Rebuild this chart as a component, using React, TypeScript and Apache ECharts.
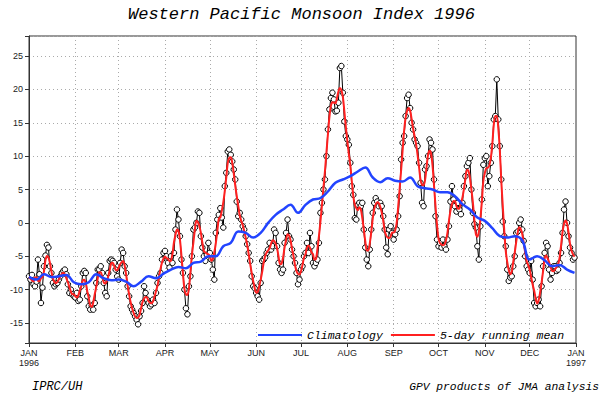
import { useEffect, useRef } from 'react';
import * as echarts from 'echarts';

const MONTHS = ['JAN', 'FEB', 'MAR', 'APR', 'MAY', 'JUN', 'JUL', 'AUG', 'SEP', 'OCT', 'NOV', 'DEC'];
const MONTH_START = [0, 31, 60, 91, 121, 152, 182, 213, 244, 274, 305, 335, 366];
const Y_TICKS = [-15, -10, -5, 0, 5, 10, 15, 20, 25];

// Daily Western Pacific Monsoon Index, 1996
const JAN = [-8.0, -8.5, -7.8, -9.2, -9.5, -8.8, -5.5, -7.7, -12.0, -9.7, -6.5, -4.9, -3.3, -3.7, -6.5, -7.5, -9.0, -9.5, -9.2, -9.0, -8.5, -8.0, -7.5, -7.2, -7.0, -7.7, -9.2, -10.5, -10.0, -10.7, -11.0];
const FEB = [-11.2, -10.5, -11.7, -11.5, -9.5, -7.5, -7.2, -7.5, -11.0, -12.5, -13.0, -12.4, -13.0, -12.0, -9.0, -7.0, -7.0, -6.5, -7.5, -9.0, -10.5, -11.0, -7.5, -5.7, -5.5, -5.7, -6.0, -7.0, -8.0];
const MAR = [-8.5, -6.0, -4.0, -4.5, -6.5, -7.5, -9.5, -11.0, -12.5, -13.0, -13.5, -14.0, -14.5, -15.2, -14.0, -13.2, -12.0, -9.5, -10.5, -11.5, -12.0, -12.5, -12.2, -11.5, -12.0, -10.5, -9.0, -8.0, -7.5, -5.5, -4.5];
const APR = [-4.2, -5.0, -6.0, -6.7, -5.0, -6.0, -4.5, -1.0, 2.0, 0.5, -2.0, -5.5, -7.5, -10.0, -12.8, -13.7, -9.5, -8.0, -5.0, -1.0, -0.7, 0.0, 1.7, 1.5, -2.0, -3.7, -5.0, -5.7, -4.8, -3.0];
const MAY = [-4.5, -5.5, -7.0, -8.5, -1.5, 0.5, 1.2, 2.2, 0.8, -0.7, 5.5, 7.5, 10.7, 11.0, 10.2, 9.2, 8.0, 6.5, 3.2, 1.0, 1.5, 0.5, -0.5, -1.0, -2.0, -3.2, -4.5, -5.7, -8.0, -9.5, -9.8];
const JUN = [-10.5, -11.0, -11.5, -9.0, -5.7, -5.5, -5.2, -4.5, -4.0, -3.0, -4.0, -3.5, -1.0, -1.5, -3.5, -6.0, -7.0, -7.5, -7.0, -3.0, -1.5, 0.5, -2.0, -2.5, -4.0, -5.0, -6.0, -7.5, -9.2, -8.5];
const JUL = [-7.0, -6.5, -5.0, -4.5, -3.0, -4.5, -1.5, -3.5, -6.0, -6.5, -6.0, -5.5, -3.0, 1.5, 3.0, 5.0, 6.5, 10.0, 14.0, 17.0, 18.7, 19.5, 18.5, 16.7, 16.8, 18.0, 23.2, 23.5, 19.5, 15.2, 13.0];
const AUG = [12.5, 11.7, 9.0, 5.5, 4.2, 0.7, 0.5, 2.7, 3.0, 2.5, 3.0, -1.0, -3.7, -5.5, -6.5, -4.0, -1.0, 1.5, 3.0, 3.7, 3.2, 2.5, 3.0, 2.5, 1.0, -1.0, -3.7, -4.7, -1.0, -0.5, -1.5];
const SEP = [-2.5, -1.7, -1.0, 1.0, 4.0, 9.5, 12.0, 13.0, 16.0, 18.7, 19.2, 17.2, 15.0, 14.0, 12.5, 12.0, 11.5, 9.0, 6.0, 3.0, 2.5, 8.0, 8.5, 10.0, 12.5, 12.0, 11.0, 6.5, 1.0, -2.5];
const OCT = [-3.5, -3.0, -3.7, -2.5, -3.5, -4.0, -2.5, -0.5, 3.2, 5.5, 3.5, 2.5, 1.7, 3.0, 2.0, 1.3, 3.0, 5.5, 7.0, 8.5, 9.0, 9.7, 5.0, 1.5, -0.2, -0.7, -3.5, -5.5, -0.5, 3.5, 8.7];
const NOV = [9.7, 10.0, 5.5, 7.0, 9.0, 11.5, 15.5, 16.0, 21.5, 15.5, 11.5, 6.5, 0.2, -2.0, -3.5, -7.0, -8.7, -8.2, -8.0, -6.5, -5.0, -1.5, -1.3, 0.0, 0.5, -1.0, -2.7, -5.0, -6.5, -7.0];
const DEC = [-7.5, -5.7, -8.5, -12.0, -12.5, -12.0, -11.5, -12.5, -9.5, -6.5, -4.5, -3.0, -3.5, -7.0, -8.5, -7.5, -6.5, -6.5, -7.2, -7.0, -6.0, -4.5, -1.5, 2.0, 3.2, 0.0, -2.0, -3.7, -4.5, -5.5, -5.2];

// Climatology, one value every 5 days (day 0, 5, ..., 365)
const CLIM_STEP = 5;
const CLIM = [-8.1, -8.5, -7.7, -8.1, -8.0, -7.8, -8.9, -9.2, -8.9, -7.7, -8.3, -8.6, -8.5, -8.8, -9.5, -8.8, -8.0, -8.3, -7.6, -7.0, -6.6, -6.8, -6.0, -5.8, -5.0, -5.0, -3.5, -3.0, -1.3, -1.5, -2.2, -1.5, 0.0, 1.2, 2.0, 2.7, 1.5, 2.7, 3.5, 3.7, 4.7, 6.0, 6.5, 7.0, 7.7, 8.3, 6.8, 6.1, 6.7, 6.3, 6.2, 6.8, 5.5, 5.2, 5.0, 4.6, 4.6, 4.0, 2.8, 2.0, 0.8, 0.3, -0.8, -2.0, -2.2, -2.0, -2.6, -5.5, -5.0, -5.6, -6.5, -6.3, -7.0, -7.5];

export default function App() {
  const ref = useRef<HTMLDivElement>(null);

  useEffect(() => {
    const chart = echarts.init(ref.current!, null, { renderer: 'svg' });
    const daily = [...JAN, ...FEB, ...MAR, ...APR, ...MAY, ...JUN, ...JUL, ...AUG, ...SEP, ...OCT, ...NOV, ...DEC];
    const mean = daily.map((_, i) => {
      let s = 0;
      let n = 0;
      for (let k = i - 2; k <= i + 2; k++) {
        if (k >= 0 && k < daily.length) {
          s += daily[k];
          n++;
        }
      }
      return +(s / n).toFixed(2);
    });
    const clim = CLIM.map((v, i) => [i * CLIM_STEP, v]);
    const cats = Array.from({ length: 367 }, (_, i) => String(i));
    const isMonth = (i: number) => MONTH_START.includes(i);
    const labelOf = (i: number) => {
      const m = MONTH_START.indexOf(i);
      if (m < 0) return '';
      if (m === 0) return 'JAN\n1996';
      if (m === 12) return 'JAN\n1997';
      return MONTHS[m];
    };
    const mono = 'Liberation Mono';

    chart.setOption({
      animation: false,
      backgroundColor: '#fff',
      title: {
        text: 'Western Pacific Monsoon Index 1996',
        left: 123,
        top: 1,
        textStyle: { fontFamily: mono, fontStyle: 'italic', fontWeight: 'normal', fontSize: 17, color: '#000' },
      },
      grid: {
        left: 29,
        right: 29,
        top: 36,
        bottom: 60,
        show: true,
        borderColor: '#333',
        borderWidth: 1,
        containLabel: false,
        outerBoundsMode: 'none',
      },
      legend: {
        data: ['Climatology', '5-day running mean'],
        left: 253,
        top: 324,
        icon: 'rect',
        itemWidth: 44,
        itemHeight: 2,
        itemGap: 8,
        textStyle: { fontFamily: mono, fontStyle: 'italic', fontSize: 11.5, color: '#000' },
      },
      xAxis: {
        type: 'category',
        data: cats,
        boundaryGap: false,
        axisLine: { onZero: false, lineStyle: { color: '#333', width: 1 } },
        axisTick: { interval: (i: number) => isMonth(i), length: 4, lineStyle: { color: '#333' } },
        axisLabel: {
          interval: (i: number) => isMonth(i),
          formatter: (v: string) => labelOf(Number(v)),
          fontFamily: 'Liberation Sans',
          fontSize: 9,
          lineHeight: 10,
          color: '#222',
          margin: 5,
        },
        splitLine: {
          show: true,
          interval: (i: number) => i > 0 && i < 366 && isMonth(i),
          lineStyle: { color: '#aaa', type: [1, 3], width: 1 },
        },
      },
      yAxis: {
        type: 'value',
        min: -18,
        max: 28,
        minInterval: 5,
        maxInterval: 5,
        splitNumber: 9,
        axisLine: { show: true, lineStyle: { color: '#333', width: 1 } },
        axisTick: { show: true, length: 4, lineStyle: { color: '#333' } },
        axisLabel: {
          formatter: (v: number) => (Y_TICKS.includes(v) ? String(v) : ''),
          fontFamily: 'Liberation Sans',
          fontSize: 9,
          color: '#222',
          margin: 6,
        },
        splitLine: { show: true, lineStyle: { color: '#aaa', type: [1, 3], width: 1 } },
      },
      series: [
        {
          name: 'Daily',
          type: 'line',
          data: daily,
          symbol: 'circle',
          symbolSize: 5.5,
          showAllSymbol: true,
          lineStyle: { color: '#000', width: 1 },
          itemStyle: { color: '#fff', borderColor: '#000', borderWidth: 1 },
          z: 2,
        },
        {
          name: '5-day running mean',
          type: 'line',
          data: mean,
          showSymbol: false,
          smooth: 0.3,
          lineStyle: { color: '#ff2020', width: 2 },
          itemStyle: { color: '#ff2020' },
          z: 3,
        },
        {
          name: 'Climatology',
          type: 'line',
          data: clim,
          showSymbol: false,
          smooth: 0.4,
          lineStyle: { color: '#2244ff', width: 2.5 },
          itemStyle: { color: '#2244ff' },
          z: 4,
        },
      ],
      graphic: [
        {
          type: 'text',
          x: 32,
          y: 381,
          style: { text: 'IPRC/UH', fontFamily: mono, fontStyle: 'italic', fontSize: 12, fill: '#000' },
        },
        {
          type: 'text',
          x: 599,
          y: 381,
          style: { text: 'GPV products of JMA analysis', fontFamily: mono, fontStyle: 'italic', fontSize: 11.3, fill: '#000', textAlign: 'right' },
        },
      ],
    });

    return () => chart.dispose();
  }, []);

  return <div ref={ref} style={{ position: 'fixed', left: 0, top: 0, width: 605, height: 403, background: '#fff' }} />;
}
